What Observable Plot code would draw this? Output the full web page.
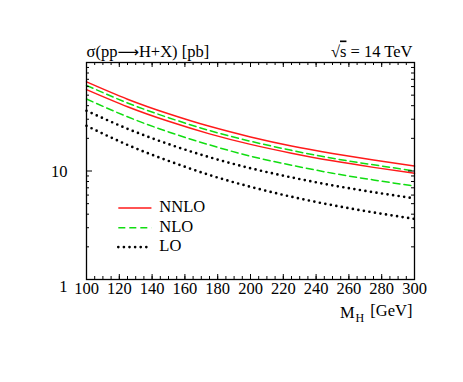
<!DOCTYPE html>
<html>
<head>
<meta charset="utf-8">
<script src="https://cdn.jsdelivr.net/npm/d3@7"></script>
<script src="https://cdn.jsdelivr.net/npm/@observablehq/plot@0.6"></script>
<style>
  body { margin: 0; background: white; }
  svg text { font-family: "Liberation Serif", "DejaVu Serif", serif; }
</style>
</head>
<body>
<div id="chart"></div>
<script>
// Higgs mass [GeV]
const mass = [100, 125, 150, 175, 200, 225, 250, 275, 300];
// cross-section bands [pb] (upper / lower edge of each order)
const nnloUpper = [66.3, 45.9, 33.7, 25.8, 20.6, 17.0, 14.5, 12.6, 11.1];
const nnloLower = [56.2, 39.1, 28.7, 22.0, 17.6, 14.6, 12.4, 10.8, 9.52];
const nloUpper  = [61.6, 42.4, 31.0, 23.6, 18.8, 15.5, 13.1, 11.4, 10.0];
const nloLower  = [46.1, 31.6, 22.9, 17.4, 13.7, 11.3, 9.54, 8.27, 7.26];
const loUpper   = [35.9, 24.5, 17.7, 13.4, 10.6, 8.73, 7.37, 6.38, 5.59];
const loLower   = [26.1, 17.4, 12.4, 9.18, 7.15, 5.79, 4.84, 4.15, 3.62];

const legendLabels = ["NNLO", "NLO", "LO"];
const xTickLabels = [100, 120, 140, 160, 180, 200, 220, 240, 260, 280, 300];
const xMinorTicks = d3.range(100, 301, 5);
const yTickLabels = [1, 10];
const yMinorTicks = [2,3,4,5,6,7,8,9,20,30,40,50,60,70,80,90];

const W = 463, H = 382;
const mL = 86, mR = 49, mT = 62, mB = 103;
const fw = W - mL - mR, fh = H - mT - mB;
const font = '"Liberation Serif", "DejaVu Serif", serif';

const styles = {
  NNLO: {stroke: "#ff1a1a", strokeWidth: 1.5},
  NLO: {stroke: "#11dd11", strokeWidth: 1.5, strokeDasharray: "7,4"},
  LO: {stroke: "black", strokeWidth: 2.7, strokeDasharray: "0,5.6", strokeLinecap: "round"}
};

const series = [
  [nnloUpper, "NNLO"], [nnloLower, "NNLO"],
  [nloUpper, "NLO"], [nloLower, "NLO"],
  [loUpper, "LO"], [loLower, "LO"]
];

// legend placement (data coordinates)
const legX1 = 119.4, legX2 = 139.6, legTextX = 144.4;
const legY = [4.55, 3.0, 1.99];

const marks = [];
for (const [vals, order] of series) {
  marks.push(Plot.line(vals, {x: (d, i) => mass[i], y: d => d, curve: "natural", ...styles[order]}));
}
// legend
legendLabels.forEach((lab, i) => {
  marks.push(Plot.link([lab], {x1: legX1, x2: legX2, y1: legY[i], y2: legY[i], ...styles[lab]}));
  marks.push(Plot.text([lab], {x: legTextX, y: legY[i], text: d => d, textAnchor: "start", lineAnchor: "middle", fontSize: 16.5, dy: -1}));
});

// inward ticks on all four sides
const majX = 5, minX = 3, majY = 6, minY = 3;
marks.push(
  Plot.tickX(xTickLabels, {x: d => d, insetTop: fh - majX, stroke: "black"}),
  Plot.tickX(xMinorTicks, {x: d => d, insetTop: fh - minX, stroke: "black"}),
  Plot.tickX(xTickLabels, {x: d => d, insetBottom: fh - majX, stroke: "black"}),
  Plot.tickX(xMinorTicks, {x: d => d, insetBottom: fh - minX, stroke: "black"}),
  Plot.tickY([1, 10, 100], {y: d => d, insetRight: fw - majY, stroke: "black"}),
  Plot.tickY(yMinorTicks, {y: d => d, insetRight: fw - minY, stroke: "black"}),
  Plot.tickY([1, 10, 100], {y: d => d, insetLeft: fw - majY, stroke: "black"}),
  Plot.tickY(yMinorTicks, {y: d => d, insetLeft: fw - minY, stroke: "black"}),
  Plot.frame({stroke: "black", strokeWidth: 1.3}),
  Plot.axisX(xTickLabels, {tickSize: 0, tickPadding: 3, tickFormat: d => String(d), fontSize: 16.5}),
  Plot.axisY([10], {tickSize: 0, tickPadding: 19, tickFormat: d => String(d), fontSize: 16.5, dy: 1}),
  Plot.axisY([1], {tickSize: 0, tickPadding: 19, tickFormat: d => String(d), fontSize: 16.5, dy: 7}),
  Plot.text(["σ(pp→H+X) [pb]"], {frameAnchor: "top-left", text: d => d, textAnchor: "start", lineAnchor: "bottom", dy: -6, dx: 0, fontSize: 16.5}),
  Plot.text(["√s = 14 TeV"], {frameAnchor: "top-right", text: d => d, textAnchor: "end", lineAnchor: "bottom", dy: -6, dx: -2, fontSize: 16.5}),
  Plot.text(["M_H [GeV]"], {frameAnchor: "bottom-right", text: d => d, textAnchor: "end", lineAnchor: "bottom", dy: 38, dx: -2, fontSize: 16.5})
);

const chart = Plot.plot({
  width: W, height: H,
  marginLeft: mL, marginRight: mR, marginTop: mT, marginBottom: mB,
  style: {fontSize: "16px", color: "black", background: "white"},
  x: {domain: [100, 300], axis: null},
  y: {type: "log", domain: [1, 100], axis: null},
  marks
});

const svg = d3.select(chart);
svg.style("font-family", font);

// title arrow, subscript H and overline on s
svg.selectAll("text").each(function() {
  const t = d3.select(this);
  const s = this.textContent;
  if (s === "M_H [GeV]") {
    t.text(null);
    t.append("tspan").text("M");
    t.append("tspan").attr("font-size", 12).attr("dx", 1).attr("dy", "0.35em").text("H");
    t.append("tspan").attr("dy", "-0.35em").attr("dx", 2).text(" [GeV]");
  } else if (s === "√s = 14 TeV") {
    t.text(null);
    t.append("tspan").text("√");
    t.append("tspan").style("text-decoration", "overline").text("s");
    t.append("tspan").text(" = 14 TeV");
  } else if (s === "σ(pp→H+X) [pb]") {
    t.text(null);
    t.append("tspan").text("σ(pp");
    t.append("tspan").attr("font-family", '"DejaVu Sans", sans-serif').attr("font-size", 15).text("⟶");
    t.append("tspan").text("H+X) [pb]");
  }
});

document.getElementById("chart").appendChild(chart);
</script>
</body>
</html>
